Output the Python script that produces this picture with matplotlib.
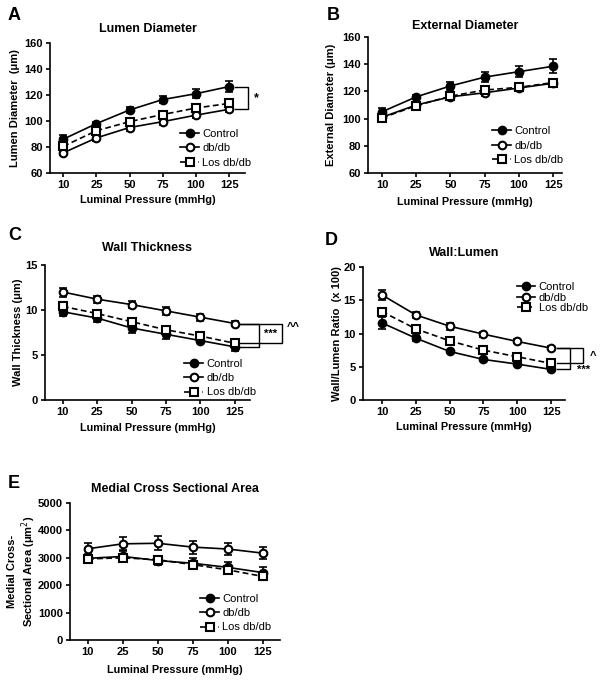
import matplotlib.pyplot as plt
import matplotlib.transforms as mtransforms
import numpy as np

plt.rcParams['font.family'] = ['Liberation Sans', 'DejaVu Sans']

pressures = ['10', '25', '50', '75', '100', '125']
groups = ['Control', 'db/db', 'Los db/db']

# A - lumen diameter (um)
lumen_ctrl = [86, 98, 108.5, 116.5, 121, 126.5]
lumen_ctrl_err = [3, 1.5, 2, 2.5, 3.5, 4]
lumen_db = [75.5, 87, 95, 99.5, 104.5, 109]
lumen_db_err = [1.5, 2, 2.5, 2.5, 2.5, 2]
lumen_los = [80.5, 92.5, 99.5, 105, 110, 113.5]
lumen_los_err = [2, 2.5, 2, 2, 2, 2]

# B - external diameter (um)
ext_ctrl = [105, 116, 124, 130.5, 134.5, 138.5]
ext_ctrl_err = [2.5, 1.5, 3, 3.5, 4, 5]
ext_db = [101, 110, 116, 119, 122.5, 126]
ext_db_err = [2, 2, 2, 2.5, 2, 2]
ext_los = [100.5, 109.5, 116.5, 121, 123, 126.5]
ext_los_err = [2, 2, 2, 2, 2, 2]

# C - wall thickness (um)
wall_ctrl = [9.8, 9.1, 8.0, 7.3, 6.6, 5.9]
wall_ctrl_err = [0.5, 0.4, 0.5, 0.5, 0.2, 0.4]
wall_db = [12.0, 11.2, 10.6, 9.9, 9.2, 8.5]
wall_db_err = [0.5, 0.4, 0.4, 0.4, 0.4, 0.3]
wall_los = [10.4, 9.6, 8.7, 7.8, 7.1, 6.3]
wall_los_err = [0.4, 0.3, 0.3, 0.3, 0.3, 0.3]

# D - wall/lumen ratio (x 100)
wl_ctrl = [11.6, 9.3, 7.3, 6.1, 5.4, 4.6]
wl_ctrl_err = [0.9, 0.5, 0.2, 0.2, 0.2, 0.2]
wl_db = [15.8, 12.8, 11.1, 9.9, 8.8, 7.8]
wl_db_err = [0.8, 0.5, 0.5, 0.4, 0.3, 0.3]
wl_los = [13.3, 10.7, 8.9, 7.5, 6.5, 5.5]
wl_los_err = [0.6, 0.5, 0.4, 0.3, 0.3, 0.3]

# E - medial cross sectional area (um^2)
csa_ctrl = [2980, 3050, 2900, 2800, 2650, 2460]
csa_ctrl_err = [150, 180, 170, 200, 180, 200]
csa_db = [3330, 3510, 3530, 3390, 3320, 3170]
csa_db_err = [220, 240, 250, 240, 230, 220]
csa_los = [2960, 3000, 2930, 2750, 2560, 2320]
csa_los_err = [100, 110, 120, 120, 110, 110]

W, H = 604, 683
fig = plt.figure(figsize=(W / 100, H / 100), dpi=100)


def px_axes(left, top, right, bottom):
    return fig.add_axes([left / W, 1 - bottom / H, (right - left) / W, (bottom - top) / H])


def draw_panel(ax, series, ylim, yticks, xlim, title, title_pad, ylabel, ylabel_x, xlabel_y,
               letter, letter_xy, legend_anchor, legend_spacing=0.4):
    x = np.arange(len(pressures))
    styles = [
        dict(marker='o', ls='-', mfc='black'),
        dict(marker='o', ls='-', mfc='white'),
        dict(marker='s', ls=(0, (3.5, 2)), mfc='white'),
    ]
    handles = []
    for (vals, errs), st, name in zip(series, styles, groups):
        ax.errorbar(x, vals, yerr=errs, fmt='none', ecolor='black', elinewidth=1.2,
                    capsize=3, capthick=1.2, zorder=2)
        ln, = ax.plot(x, vals, color='black', lw=1.2, ls=st['ls'], marker=st['marker'],
                      ms=5.5, mfc=st['mfc'], mec='black', mew=1.5, label=name, zorder=3)
        handles.append(ln)

    ax.set_xlim(*xlim)
    ax.set_ylim(*ylim)
    ax.set_xticks(x)
    ax.set_xticklabels(pressures)
    ax.set_yticks(yticks)
    ax.spines['top'].set_visible(False)
    ax.spines['right'].set_visible(False)
    for s in ('left', 'bottom'):
        ax.spines[s].set_linewidth(1.2)
    ax.tick_params(axis='both', length=3, width=1.2, labelsize=8, pad=2)
    for lab in ax.get_xticklabels() + ax.get_yticklabels():
        lab.set_fontweight('bold')

    ax.set_xlabel('Luminal Pressure (mmHg)', fontsize=7.8, fontweight='bold')
    ax.xaxis.set_label_coords(0.5, xlabel_y)
    ax.set_ylabel(ylabel, fontsize=8, fontweight='bold')
    ax.yaxis.set_label_coords(ylabel_x, 0.5)
    ax.set_title(title, fontsize=9, fontweight='bold', pad=title_pad)
    fig.text(letter_xy[0] / W, 1 - letter_xy[1] / H, letter, fontsize=13,
             fontweight='bold', ha='left', va='center')

    ax.legend(handles=handles, loc='center left', bbox_to_anchor=legend_anchor,
              frameon=False, fontsize=8, borderpad=0, borderaxespad=0,
              handlelength=1.7, handletextpad=0.3, labelspacing=legend_spacing)
    return handles


def bracket(ax, y_top, y_bot, x0, x1):
    tr = mtransforms.blended_transform_factory(ax.transAxes, ax.transData)
    ax.plot([x0, x1, x1, x0], [y_top, y_top, y_bot, y_bot], color='black', lw=1.0,
            transform=tr, clip_on=False)


# A
axA = px_axes(50, 43, 245, 173)
draw_panel(axA, [(lumen_ctrl, lumen_ctrl_err), (lumen_db, lumen_db_err), (lumen_los, lumen_los_err)],
           (60, 160), range(60, 161, 20), (-0.4, 5.48), 'Lumen Diameter', 8,
           'Lumen Diameter  (\u03bcm)', -0.154, -0.17, 'A', (8, 15), (0.667, 0.19))
bracket(axA, lumen_ctrl[-1], lumen_db[-1], 0.95, 1.015)
trA = mtransforms.blended_transform_factory(axA.transAxes, axA.transData)
axA.text(1.06, (lumen_ctrl[-1] + lumen_db[-1]) / 2, '*', transform=trA, fontsize=9,
         fontweight='bold', ha='center', va='center')

# B
axB = px_axes(368, 37, 562, 173)
draw_panel(axB, [(ext_ctrl, ext_ctrl_err), (ext_db, ext_db_err), (ext_los, ext_los_err)],
           (60, 160), range(60, 161, 20), (-0.41, 5.26), 'External Diameter', 6,
           'External Diameter (\u03bcm)', -0.165, -0.176, 'B', (327, 16), (0.64, 0.2))

# C
axC = px_axes(45, 265, 250, 400)
draw_panel(axC, [(wall_ctrl, wall_ctrl_err), (wall_db, wall_db_err), (wall_los, wall_los_err)],
           (0, 15), [0, 5, 10, 15], (-0.52, 5.44), 'Wall Thickness', 10,
           'Wall Thickness (\u03bcm)', -0.107, -0.17, 'C', (8, 235), (0.68, 0.163))
bracket(axC, wall_db[-1], wall_los[-1], 0.95, 1.156)
bracket(axC, wall_db[-1], wall_ctrl[-1], 0.95, 1.044)
trC = mtransforms.blended_transform_factory(axC.transAxes, axC.transData)
axC.text(1.10, (wall_db[-1] + wall_ctrl[-1]) / 2 + 0.2, '***', transform=trC, fontsize=8,
         fontweight='bold', ha='center', va='center')
axC.text(1.21, wall_db[-1] - 0.4, '^^', transform=trC, fontsize=8,
         fontweight='bold', ha='center', va='center')

# D
axD = px_axes(363, 267, 565, 400)
draw_panel(axD, [(wl_ctrl, wl_ctrl_err), (wl_db, wl_db_err), (wl_los, wl_los_err)],
           (0, 20), [0, 5, 10, 15, 20], (-0.56, 5.41), 'Wall:Lumen', 8,
           'Wall/Lumen Ratio  (x 100)', -0.104, -0.165, 'D', (325, 241), (0.76, 0.77),
           legend_spacing=0.05)
bracket(axD, wl_db[-1], wl_los[-1], 0.96, 1.09)
bracket(axD, wl_db[-1], wl_ctrl[-1], 0.96, 1.025)
trD = mtransforms.blended_transform_factory(axD.transAxes, axD.transData)
axD.text(1.09, wl_ctrl[-1], '***', transform=trD, fontsize=8,
         fontweight='bold', ha='center', va='center')
axD.text(1.14, (wl_db[-1] + wl_los[-1]) / 2, '^', transform=trD, fontsize=8,
         fontweight='bold', ha='center', va='center')

# E
axE = px_axes(70, 503, 280, 640)
draw_panel(axE, [(csa_ctrl, csa_ctrl_err), (csa_db, csa_db_err), (csa_los, csa_los_err)],
           (0, 5000), range(0, 5001, 1000), (-0.51, 5.49), 'Medial Cross Sectional Area', 8,
           'Medial Cross-\nSectional Area (\u03bcm$^2$)', -0.152, -0.18, 'E', (8, 483),
           (0.62, 0.197))

fig.savefig('out.png', dpi=100, facecolor='white')
